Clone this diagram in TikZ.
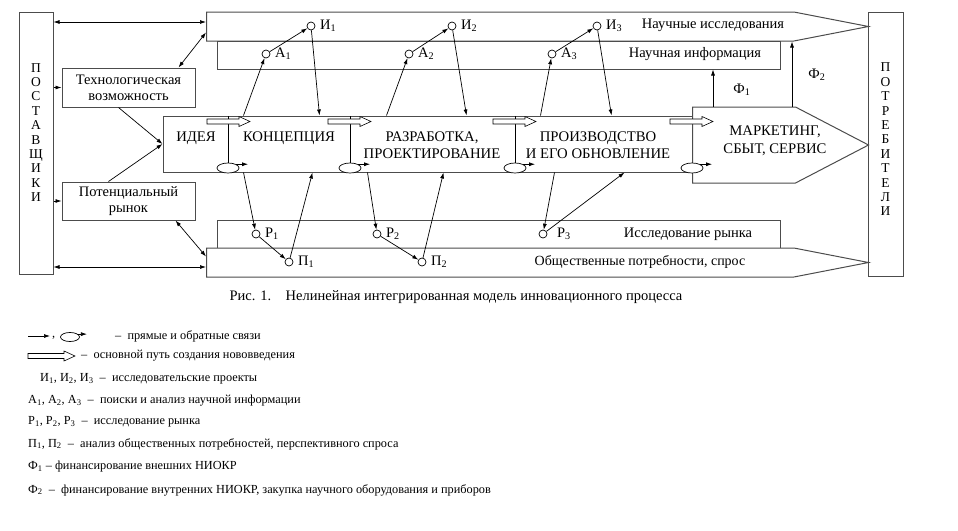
\documentclass[tikz,border=0pt]{standalone}
\usepackage{fontspec}
\setmainfont{Liberation Serif}
\usetikzlibrary{arrows.meta, positioning, calc, shapes.geometric, shapes.symbols}
\tikzset{
    plainbox/.style={
        rectangle,
        draw=black!70,
        fill=white,
        line width=1pt,
        inner sep=0pt
    },
    bandsig/.style={
        signal,
        signal to=east,
        signal from=nowhere,
        draw=black!70,
        fill=white,
        line width=1pt,
        inner sep=0pt,
        anchor=west
    },
    point/.style={
        circle,
        draw=black,
        fill=white,
        line width=0.7pt,
        minimum size=8pt,
        inner sep=0pt
    },
    loopmark/.style={
        ellipse,
        draw=black,
        fill=white,
        line width=0.7pt,
        minimum width=22pt,
        minimum height=10pt,
        inner sep=0pt
    },
    arrow/.style={
        -{Latex[length=6pt, width=4pt]},
        line width=0.7pt
    },
    biarrow/.style={
        {Latex[length=6pt, width=4pt]}-{Latex[length=6pt, width=4pt]},
        line width=0.7pt
    },
    divline/.style={draw, line width=0.7pt},
    % texts
    lbl/.style={font=\fontsize{14.5}{16}\selectfont, inner sep=1pt},
    ptlbl/.style={lbl, xshift=3.5pt},
    stage/.style={font=\fontsize{14.7}{17.5}\selectfont, align=center, inner sep=1pt},
    vtext/.style={font=\fontsize{13.5}{14.4}\selectfont, align=center, inner sep=0pt},
    smallbox/.style={plainbox, minimum width=133pt, font=\fontsize{14.5}{16}\selectfont, align=center},
    legtext/.style={font=\fontsize{12.3}{14}\selectfont, anchor=west, inner sep=0pt},
    % hollow arrow of the main path
    pics/pathfwd/.style={code={
        \draw[fill=white, line width=0.6pt] (0,-2.5) -- ({#1-11},-2.5) -- ({#1-11},-5)
            -- (#1,0) -- ({#1-11},5) -- ({#1-11},2.5) -- (0,2.5) -- cycle;
    }},
}
\begin{document}
\begin{tikzpicture}[x=1pt, y=-1pt]
\useasboundingbox (0,0) rectangle (958,530);

% side columns
\node[plainbox, minimum width=34, minimum height=262] (supp) at (36,143) {};
\node[vtext] (supptext) at (36,132.5) {П\\О\\С\\Т\\А\\В\\Щ\\И\\К\\И};
\node[plainbox, minimum width=35, minimum height=264] (cons) at (885.5,144) {};
\node[vtext] (constext) at (885.5,139.5) {П\\О\\Т\\Р\\Е\\Б\\И\\Т\\Е\\Л\\И};

% bands
\node[bandsig, minimum width=662, minimum height=29, signal pointer angle=22] (sci) at (206,26.5) {};
\node[plainbox, minimum width=563, minimum height=28] (info) at (498.5,55) {};
\node[plainbox, minimum width=563, minimum height=28] (mres) at (498.5,234) {};
\node[bandsig, minimum width=662, minimum height=29, signal pointer angle=22] (soc) at (206,262.5) {};
\node[lbl] (scilbl) at (713,25) {Научные исследования};
\node[lbl] (infolbl) at (695,54) {Научная информация};
\node[lbl] (mreslbl) at (688,234) {Исследование рынка};
\node[lbl, font=\fontsize{14}{16}\selectfont] (soclbl) at (640,262) {Общественные потребности, спрос};

% left boxes
\node[smallbox, minimum height=39] (tech) at (128.5,87.5) {Технологическая\\возможность};
\node[smallbox, minimum height=38] (pot) at (128.5,201) {Потенциальный\\рынок};

% main block
\node[plainbox, minimum width=529, minimum height=56] (main) at (427.5,144) {};
\node[bandsig, minimum width=176, minimum height=76, signal pointer angle=55] (mkt) at (692,145) {};
\node[stage] (idea) at (196,138) {ИДЕЯ};
\node[stage] (conc) at (289,138) {КОНЦЕПЦИЯ};
\node[stage] (devel) at (432,145) {РАЗРАБОТКА,\\ПРОЕКТИРОВАНИЕ};
\node[stage] (prod) at (598,145) {ПРОИЗВОДСТВО\\И ЕГО ОБНОВЛЕНИЕ};
\node[stage] (mktext) at (775,141) {МАРКЕТИНГ,\\СБЫТ, СЕРВИС};

\node[loopmark] (e1) at (228,168) {};
\node[loopmark] (e2) at (350,168) {};
\node[loopmark] (e3) at (515,168) {};
\node[loopmark] (e4) at (692,168) {};
\foreach \e in {e1,e2,e3} {
    \draw[divline] (\e.north) -- (\e.north |- main.north);
}
\foreach \e in {e1,e2,e3,e4} {
    \draw[arrow] (\e.25) -- ++(12,0);
}
\pic at (207,121.5) {pathfwd=43};
\pic at (328,121.5) {pathfwd=43};
\pic at (493,121.5) {pathfwd=43};
\pic at (670,121.5) {pathfwd=43};

% research points
\node[point, label={[ptlbl]right:И\textsubscript{1}}] (i1) at (311,26) {};
\node[point, label={[ptlbl]right:И\textsubscript{2}}] (i2) at (452,26) {};
\node[point, label={[ptlbl]right:И\textsubscript{3}}] (i3) at (597,26) {};
\node[point, label={[ptlbl]right:А\textsubscript{1}}] (a1) at (266,54) {};
\node[point, label={[ptlbl]right:А\textsubscript{2}}] (a2) at (409,54) {};
\node[point, label={[ptlbl]right:А\textsubscript{3}}] (a3) at (552,54) {};
\node[point, label={[ptlbl]right:Р\textsubscript{1}}] (r1) at (256,234) {};
\node[point, label={[ptlbl]right:Р\textsubscript{2}}] (r2) at (377,234) {};
\node[point, label={[ptlbl,xshift=5pt]right:Р\textsubscript{3}}] (r3) at (543,234) {};
\node[point, label={[ptlbl]right:П\textsubscript{1}}] (p1) at (289,262) {};
\node[point, label={[ptlbl]right:П\textsubscript{2}}] (p2) at (422,262) {};

% top links
\coordinate (mt1) at ($(main.north west)+(81,0)$);
\coordinate (mt2) at ($(main.north west)+(157,0)$);
\coordinate (mt3) at ($(main.north west)+(224,0)$);
\coordinate (mt4) at ($(main.north west)+(304,0)$);
\coordinate (mt5) at ($(main.north west)+(378,0)$);
\coordinate (mt6) at ($(main.north west)+(449,0)$);
\draw[arrow] (mt1) -- (a1);
\draw[arrow] (a1) -- (i1);
\draw[arrow] (i1) -- (mt2);
\draw[arrow] (mt3) -- (a2);
\draw[arrow] (a2) -- (i2);
\draw[arrow] (i2) -- (mt4);
\draw[arrow] (mt5) -- (a3);
\draw[arrow] (a3) -- (i3);
\draw[arrow] (i3) -- (mt6);

% bottom links
\coordinate (mb1) at ($(main.south west)+(81,0)$);
\coordinate (mb2) at ($(main.south west)+(150,0)$);
\coordinate (mb3) at ($(main.south west)+(205,0)$);
\coordinate (mb4) at ($(main.south west)+(281,0)$);
\coordinate (mb5) at ($(main.south west)+(392,0)$);
\coordinate (mb6) at ($(main.south west)+(462,0)$);
\draw[arrow] (mb1) -- (r1);
\draw[arrow] (r1) -- (p1);
\draw[arrow] (p1) -- (mb2);
\draw[arrow] (mb3) -- (r2);
\draw[arrow] (r2) -- (p2);
\draw[arrow] (p2) -- (mb4);
\draw[arrow] (mb5) -- (r3);
\draw[arrow] (r3) -- (mb6);

% side links
\draw[biarrow] ($(supp.east)+(0,-121)$) -- ($(sci.west)+(0,-4.5)$);
\draw[biarrow] ($(supp.east)+(0,124)$) -- ($(soc.west)+(0,4.5)$);
\draw[arrow] (supp.east |- tech.west) -- (tech.west);
\draw[arrow] (supp.east |- pot.west) -- (pot.west);
\draw[biarrow] ($(sci.west)+(0,6)$) -- ($(tech.north east)+(-17,0)$);
\draw[biarrow] ($(soc.west)+(0,-6)$) -- ($(pot.south east)+(-20,0)$);
\draw[arrow] ($(tech.south)+(-10,0)$) -- (main.west);
\draw[arrow] ($(pot.north)+(-20,0)$) -- (main.west);

% financing
\coordinate (f1s) at ($(mkt.north west)+(21,0)$);
\coordinate (f2s) at ($(mkt.north west)+(100,0)$);
\draw[arrow] (f1s) -- (f1s |- info.south);
\draw[arrow] (f2s) -- (f2s |- sci.south);
\node[lbl] (f1) at (742,90) {Ф\textsubscript{1}};
\node[lbl] (f2) at (817,75) {Ф\textsubscript{2}};

% caption
\node[lbl] (cap) at (456,297) {Рис. 1.\quad Нелинейная интегрированная модель инновационного процесса};

% legend
\coordinate (k1s) at (28,336);
\coordinate (k1e) at (50,336);
\draw[arrow] (k1s) -- (k1e);
\node[legtext] (k1c) at (52,338) {,};
\node[loopmark, minimum width=19pt, minimum height=9pt] (k1o) at (70,337) {};
\draw[arrow] (k1o.20) -- ++(9,0);
\node[legtext] (k1t) at (115,336) {–\enspace прямые и обратные связи};
\pic at (28,356) {pathfwd=47};
\node[legtext] (k2t) at (81,356) {–\enspace основной путь создания нововведения};
\node[legtext] (k3t) at (40,379) {И\textsubscript{1}, И\textsubscript{2}, И\textsubscript{3}\enspace–\enspace исследовательские проекты};
\node[legtext] (k4t) at (28,401) {А\textsubscript{1}, А\textsubscript{2}, А\textsubscript{3}\enspace–\enspace поиски и анализ научной информации};
\node[legtext] (k5t) at (28,422) {Р\textsubscript{1}, Р\textsubscript{2}, Р\textsubscript{3}\enspace–\enspace исследование рынка};
\node[legtext] (k6t) at (28,444) {П\textsubscript{1}, П\textsubscript{2}\enspace–\enspace анализ общественных потребностей, перспективного спроса};
\node[legtext] (k7t) at (28,467) {Ф\textsubscript{1} – финансирование внешних НИОКР};
\node[legtext] (k8t) at (28,490) {Ф\textsubscript{2}\enspace–\enspace финансирование внутренних НИОКР, закупка научного оборудования и приборов};
\end{tikzpicture}
\end{document}
